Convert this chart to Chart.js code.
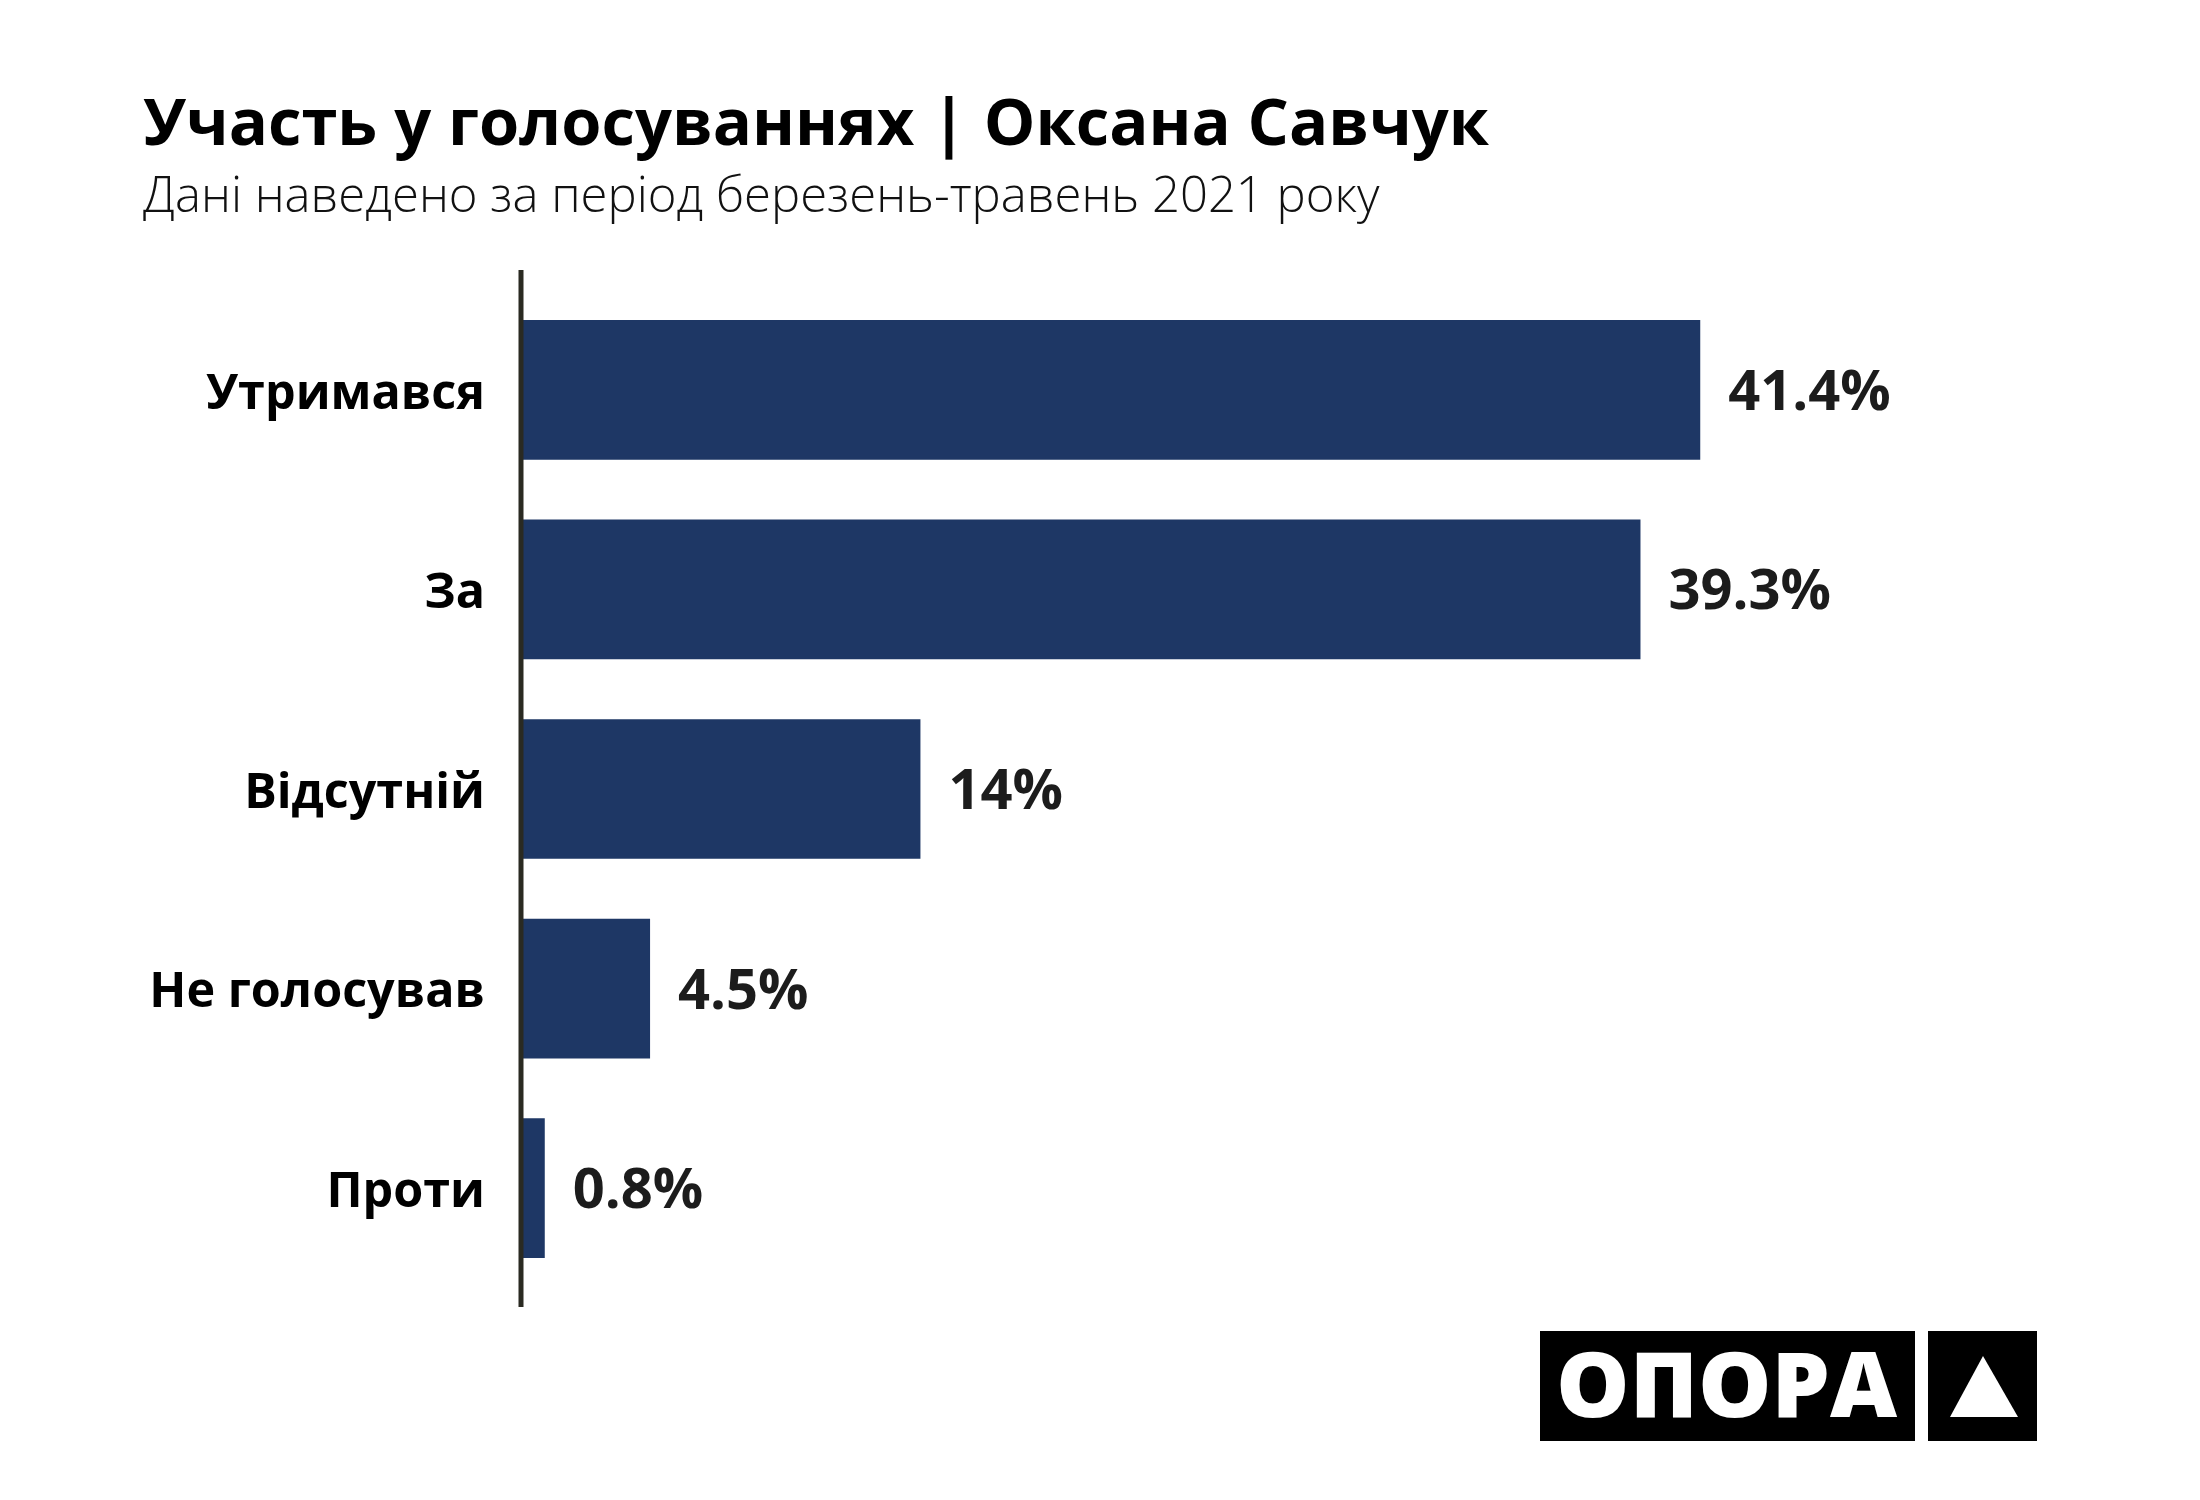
<!DOCTYPE html>
<html>
<head>
<meta charset="utf-8">
<script src="https://cdn.jsdelivr.net/npm/chart.js@4.4.1/dist/chart.umd.min.js"></script>
<style>
  html, body { margin: 0; padding: 0; background: #ffffff; }
  canvas { display: block; }
</style>
</head>
<body>
<canvas id="chart" width="2200" height="1500" style="width:2200px;height:1500px"></canvas>
<script>
// ---- data ----
const titleText = 'Участь у голосуваннях | Оксана Савчук';
const subtitleText = 'Дані наведено за період березень-травень 2021 року';
const categories = ['Утримався', 'За', 'Відсутній', 'Не голосував', 'Проти'];
const values = [41.4, 39.3, 14, 4.5, 0.8];
const valueLabels = ['41.4%', '39.3%', '14%', '4.5%', '0.8%'];
const logoText = 'ОПОРА';

// ---- style ----
const FONT = '"Open Sans", "Noto Sans", "DejaVu Sans", sans-serif';
const BAR_COLOR = '#1e3765';
const AXIS_COLOR = '#2a2a22';

const decorations = {
  id: 'decorations',
  beforeDraw(chart) {
    const ctx = chart.ctx;
    ctx.save();
    ctx.fillStyle = '#ffffff';
    ctx.fillRect(0, 0, chart.width, chart.height);
    ctx.restore();
  },
  afterDatasetsDraw(chart) {
    const ctx = chart.ctx;
    const area = chart.chartArea;
    const meta = chart.getDatasetMeta(0);
    ctx.save();
    // value labels
    ctx.font = '700 56px ' + FONT;
    ctx.fillStyle = '#1c1c1c';
    ctx.textAlign = 'left';
    ctx.textBaseline = 'alphabetic';
    meta.data.forEach((bar, i) => {
      ctx.fillText(valueLabels[i], bar.x + 28, bar.y + 20);
    });
    // vertical axis line
    const x0 = chart.scales.x.getPixelForValue(0) - 1;
    ctx.strokeStyle = AXIS_COLOR;
    ctx.lineWidth = 5;
    ctx.beginPath();
    ctx.moveTo(x0, area.top - 20);
    ctx.lineTo(x0, area.bottom + 19);
    ctx.stroke();
    ctx.restore();
  },
  afterDraw(chart) {
    const ctx = chart.ctx;
    ctx.save();
    ctx.textAlign = 'left';
    ctx.textBaseline = 'alphabetic';
    // title
    ctx.fillStyle = '#000000';
    ctx.font = '700 65px ' + FONT;
    ctx.fillText(titleText, 143, 145);
    // subtitle
    ctx.fillStyle = '#111111';
    ctx.font = '300 49px ' + FONT;
    ctx.fillText(subtitleText, 143, 212);

    // logo
    ctx.fillStyle = '#000000';
    ctx.fillRect(1540, 1331, 375, 110);
    ctx.fillRect(1928, 1331, 109, 110);
    ctx.fillStyle = '#ffffff';
    ctx.font = '800 91px ' + FONT;
    const w = ctx.measureText(logoText).width;
    const sx = 341 / w;
    ctx.save();
    ctx.translate(1556, 1417);
    ctx.scale(sx, 1);
    ctx.fillText(logoText, 0, 0);
    ctx.restore();
    ctx.beginPath();
    ctx.moveTo(1983, 1356);
    ctx.lineTo(2018, 1417);
    ctx.lineTo(1950, 1417);
    ctx.closePath();
    ctx.fill();
    ctx.restore();
  }
};

new Chart(document.getElementById('chart'), {
  type: 'bar',
  data: {
    labels: categories,
    datasets: [{
      data: values,
      backgroundColor: BAR_COLOR,
      borderWidth: 0,
      barPercentage: 0.7,
      categoryPercentage: 1.0
    }]
  },
  options: {
    indexAxis: 'y',
    responsive: false,
    devicePixelRatio: 1,
    animation: false,
    layout: { padding: { left: 0, top: 290, right: 255, bottom: 212 } },
    plugins: {
      legend: { display: false },
      title: { display: false },
      tooltip: { enabled: false }
    },
    scales: {
      x: {
        display: false,
        min: 0,
        max: 50
      },
      y: {
        grid: { display: false, drawTicks: false },
        border: { display: false },
        ticks: {
          color: '#000000',
          padding: 37,
          labelOffset: 5,
          font: { family: FONT, size: 48.5, weight: '700' }
        },
        afterFit(scale) { scale.width = 522; }
      }
    }
  },
  plugins: [decorations]
});
</script>
</body>
</html>
